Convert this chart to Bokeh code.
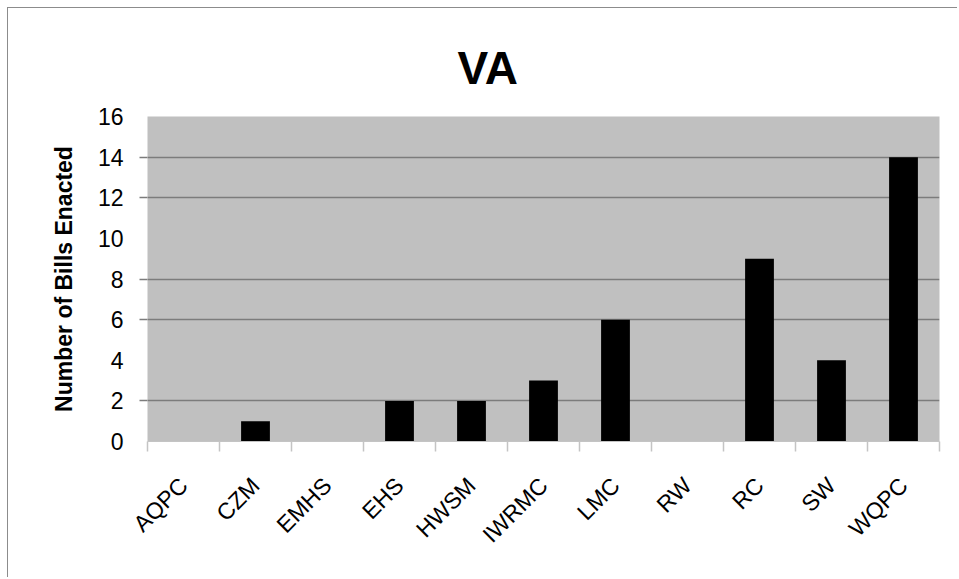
from bokeh.plotting import figure
from bokeh.models import Range1d, FixedTicker, Title
from bokeh.embed import file_html
from bokeh.resources import INLINE

categories = ["AQPC", "CZM", "EMHS", "EHS", "HWSM", "IWRMC", "LMC", "RW", "RC", "SW", "WQPC"]
bills = [0, 1, 0, 2, 2, 3, 6, 0, 9, 4, 14]
y_ticks = [0, 2, 4, 6, 8, 10, 12, 14, 16]
grid_ticks = [2, 6, 8, 12, 14]

centers = [i + 0.5 for i in range(len(categories))]
bounds = list(range(len(categories) + 1))

FONT = "Liberation Sans"

p = figure(width=950, height=570, output_backend="svg", toolbar_location=None,
           x_range=Range1d(0, len(categories)), y_range=Range1d(0, 16),
           min_border_left=139, min_border_top=108, min_border_right=19, min_border_bottom=137)
p.styles = {"margin-left": "7px", "margin-top": "7px",
            "border-left": "1px solid #8c8c8c", "border-top": "1px solid #8c8c8c"}

p.background_fill_color = "#c0c0c0"
p.border_fill_color = "white"
p.outline_line_color = None

p.vbar(x=centers, top=bills, width=0.4, fill_color="black", line_color=None)

# title
p.title = None
p.add_layout(Title(text=" ", text_font_size="1px", standoff=0), "above")
p.add_layout(Title(text="VA", align="left", offset=310, standoff=40,
                   text_font=FONT, text_font_size="46px", text_font_style="bold",
                   text_color="black"), "above")

# grid
p.xgrid.grid_line_color = None
p.ygrid.ticker = FixedTicker(ticks=grid_ticks)
p.ygrid.grid_line_color = "#7c7c7c"
p.ygrid.grid_line_width = 1.5

# y axis
p.yaxis.ticker = FixedTicker(ticks=y_ticks, minor_ticks=grid_ticks)
p.yaxis.axis_line_color = None
p.yaxis.major_tick_line_color = None
p.yaxis.major_tick_out = 8
p.yaxis.major_tick_in = 0
p.yaxis.minor_tick_line_color = "#7c7c7c"
p.yaxis.minor_tick_line_width = 1.5
p.yaxis.minor_tick_out = 8
p.yaxis.minor_tick_in = 0
p.yaxis.major_label_standoff = 16
p.yaxis.major_label_text_font = FONT
p.yaxis.major_label_text_font_size = "23px"
p.yaxis.major_label_text_color = "black"
p.yaxis.axis_label = "Number of Bills Enacted"
p.yaxis.axis_label_text_font = FONT
p.yaxis.axis_label_text_font_size = "23px"
p.yaxis.axis_label_text_font_style = "bold"
p.yaxis.axis_label_text_color = "black"
p.yaxis.axis_label_standoff = 18

# x axis
p.xaxis.ticker = FixedTicker(ticks=centers, minor_ticks=bounds)
p.xaxis.major_label_overrides = {c: name for c, name in zip(centers, categories)}
p.xaxis.axis_line_color = "#c4c4c4"
p.xaxis.major_tick_line_color = None
p.xaxis.major_tick_out = 8
p.xaxis.major_tick_in = 0
p.xaxis.minor_tick_line_color = "#c4c4c4"
p.xaxis.minor_tick_line_width = 1.5
p.xaxis.minor_tick_out = 10
p.xaxis.minor_tick_in = 0
p.xaxis.major_label_orientation = 0.785398
p.xaxis.major_label_standoff = 30
p.xaxis.major_label_text_font = FONT
p.xaxis.major_label_text_font_size = "23px"
p.xaxis.major_label_text_color = "black"

open("out.html", "w").write(file_html(p, INLINE))
